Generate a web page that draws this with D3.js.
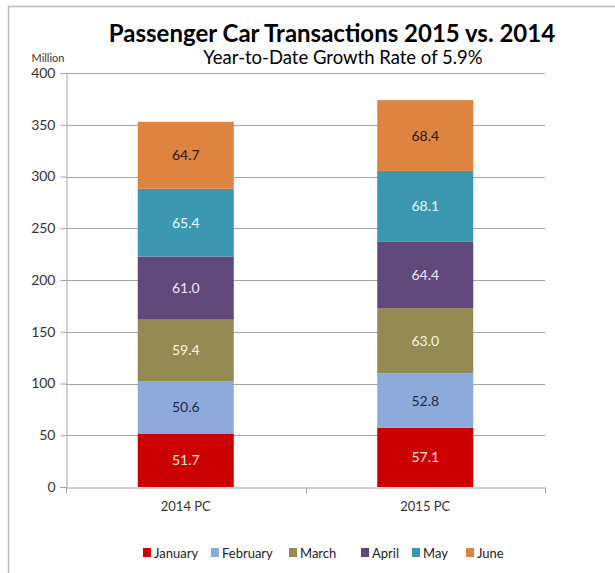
<!DOCTYPE html>
<html>
<head>
<meta charset="utf-8">
<script src="https://cdn.jsdelivr.net/npm/d3@7"></script>
<style>
  body { margin: 0; background: #fff; }
  svg { font-family: Lato, "Open Sans", sans-serif; }
</style>
</head>
<body>
<div id="chart"></div>
<script>
// chart data
var categories = ["2014 PC", "2015 PC"];
var months = ["January", "February", "March", "April", "May", "June"];
var values2014 = [51.7, 50.6, 59.4, 61.0, 65.4, 64.7];
var values2015 = [57.1, 52.8, 63.0, 64.4, 68.1, 68.4];
var yTicks = [0, 50, 100, 150, 200, 250, 300, 350, 400];

var colors = ["#cc0000", "#8eaadb", "#948a54", "#5f497a", "#3c97b0", "#de8441"];
var labelColors = ["#ffe4e4", "#1c2b4a", "#fbf6dc", "#efe8f8", "#e8fbff", "#2a1606"];

var width = 615, height = 573;
var svg = d3.select("#chart").append("svg")
    .attr("width", width)
    .attr("height", height);

// outer frame (top and left edges visible)
svg.append("line").attr("x1", 8).attr("x2", width).attr("y1", 6.5).attr("y2", 6.5)
    .attr("stroke", "#bcbcbc").attr("stroke-width", 1.5);
svg.append("line").attr("x1", 8.5).attr("x2", 8.5).attr("y1", 6).attr("y2", height)
    .attr("stroke", "#bcbcbc").attr("stroke-width", 1.5);

var plotLeft = 66, plotRight = 545, plotTop = 73, plotBottom = 487;

var x = d3.scaleBand().domain(categories).range([plotLeft, plotRight]).paddingInner(0).paddingOuter(0);
var y = d3.scaleLinear().domain([0, 400]).range([plotBottom, plotTop]);
var barW = 96;

// grid lines
svg.append("g").selectAll("line")
  .data(yTicks.filter(function(d){ return d > 0; }))
  .enter().append("line")
  .attr("x1", plotLeft).attr("x2", plotRight)
  .attr("y1", function(d){ return Math.round(y(d)) + 0.5; })
  .attr("y2", function(d){ return Math.round(y(d)) + 0.5; })
  .attr("stroke", "#a6a6a6").attr("stroke-width", 1);

// stacked data
var table = categories.map(function(c, i){
  var row = { cat: c };
  var vals = i === 0 ? values2014 : values2015;
  months.forEach(function(m, j){ row[m] = vals[j]; });
  return row;
});
var series = d3.stack().keys(months)(table);

var g = svg.append("g");
series.forEach(function(s, si){
  g.selectAll(".bar" + si)
    .data(s)
    .enter().append("rect")
    .attr("x", function(d){ return x(d.data.cat) + (x.bandwidth() - barW) / 2; })
    .attr("y", function(d){ return y(d[1]); })
    .attr("width", barW)
    .attr("height", function(d){ return y(d[0]) - y(d[1]); })
    .attr("fill", colors[si]);

  g.selectAll(".lbl" + si)
    .data(s)
    .enter().append("text")
    .attr("x", function(d){ return x(d.data.cat) + x.bandwidth() / 2; })
    .attr("y", function(d){ return (y(d[0]) + y(d[1])) / 2 + 5; })
    .attr("text-anchor", "middle")
    .attr("font-size", 14)
    .attr("fill", labelColors[si])
    .text(function(d){ return (d[1] - d[0]).toFixed(1); });
});

// y axis
var yAxis = d3.axisLeft(y).tickValues(yTicks).tickSize(6).tickPadding(5);
var ya = svg.append("g")
    .attr("transform", "translate(" + (plotLeft + 0.5) + ",0)")
    .call(yAxis);
ya.selectAll("path, line").attr("stroke", "#a6a6a6");
ya.selectAll("text").attr("font-size", 14).attr("fill", "#333").attr("font-family", "Lato, sans-serif");

// x axis
var xAxis = d3.axisBottom(x).tickSize(0).tickPadding(14);
var xa = svg.append("g")
    .attr("transform", "translate(0," + (plotBottom + 0.5) + ")")
    .call(xAxis);
xa.select(".domain").attr("stroke", "#a6a6a6");
xa.selectAll("text").attr("font-size", 13).attr("fill", "#333").attr("font-family", "Lato, sans-serif");
// category separators on x axis
xa.selectAll(".sep")
  .data([plotLeft, x(categories[1]), plotRight])
  .enter().append("line")
  .attr("x1", function(d){ return Math.round(d) + 0.5; })
  .attr("x2", function(d){ return Math.round(d) + 0.5; })
  .attr("y1", 0).attr("y2", 6)
  .attr("stroke", "#a6a6a6");

// titles
svg.append("text")
    .attr("x", 332).attr("y", 42)
    .attr("text-anchor", "middle")
    .attr("font-size", 24).attr("font-weight", "bold").attr("fill", "#000")
    .text("Passenger Car Transactions 2015 vs. 2014");
svg.append("text")
    .attr("x", 343).attr("y", 64)
    .attr("text-anchor", "middle")
    .attr("font-size", 18.5).attr("fill", "#000")
    .text("Year-to-Date Growth Rate of 5.9%");
svg.append("text")
    .attr("x", 48).attr("y", 62)
    .attr("text-anchor", "middle")
    .attr("font-size", 11).attr("fill", "#333")
    .text("Million");

// legend
var legendX = [143, 211, 289, 361, 412, 466];
var lg = svg.append("g").selectAll("g")
  .data(months)
  .enter().append("g")
  .attr("transform", function(d, i){ return "translate(" + legendX[i] + ",548)"; });
lg.append("rect").attr("width", 8).attr("height", 9)
  .attr("fill", function(d, i){ return colors[i]; });
lg.append("text").attr("x", 11).attr("y", 9.5)
  .attr("font-size", 13).attr("fill", "#222")
  .text(function(d){ return d; });
</script>
</body>
</html>
